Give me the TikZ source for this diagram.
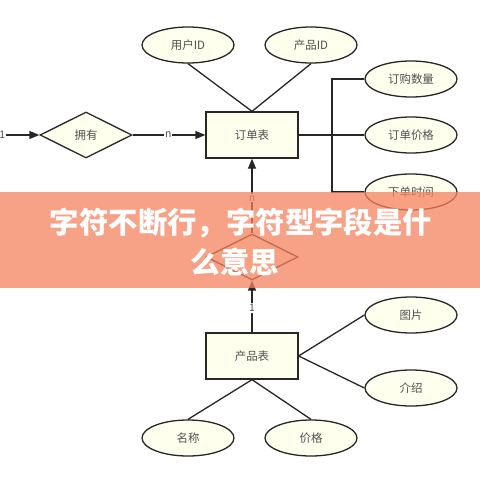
\documentclass[tikz,border=0pt]{standalone}
\usepackage{fontspec}
\setmainfont{Noto Sans CJK SC}
\usetikzlibrary{shapes.geometric,arrows.meta}
\definecolor{ivory}{RGB}{255,255,238}
\definecolor{ink}{RGB}{38,38,38}
\definecolor{txt}{RGB}{80,80,80}
\definecolor{banner}{RGB}{245,130,95}
\begin{document}
\begin{tikzpicture}[x=1bp,y=-1bp,
  base/.style={draw=ink, fill=ivory, line width=1.3bp, inner sep=0pt, text=txt, font=\fontsize{11.5}{13}\selectfont},
  attr/.style={base, ellipse, minimum width=92bp, minimum height=36bp},
  entity/.style={base, rectangle, minimum width=92bp, minimum height=46bp},
  rel/.style={base, diamond, aspect=2, minimum width=92bp, minimum height=46bp},
  conn/.style={draw=ink, line width=1.3bp},
  arr/.style={conn, -{Triangle[length=10bp,width=8bp]}},
  lab/.style={fill=white, inner sep=1pt, text=txt, font=\fontsize{10.5}{12}\selectfont},
  bannertext/.style={text=white, font=\fontsize{29.5}{34}\selectfont\bfseries}
]
\useasboundingbox (0,0) rectangle (480,480);
\fill[white] (0,0) rectangle (480,480);

\node[attr] (uid) at (188,45) {用户ID};
\node[attr] (pid) at (311,45) {产品ID};
\node[entity] (ord) at (252,135) {订单表};
\node[rel] (own) at (86,135) {拥有};
\node[attr] (qty) at (411,79) {订购数量};
\node[attr] (oprice) at (411,135) {订单价格};
\node[attr] (otime) at (411,192) {下单时间};
\node[rel] (bel) at (252,257) {};
\node[entity] (prod) at (252,356) {产品表};
\node[attr] (pic) at (411,315) {图片};
\node[attr] (intro) at (411,388) {介绍};
\node[attr] (pname) at (188,438) {名称};
\node[attr] (pprice) at (311,438) {价格};

\coordinate (lin) at (-12,135);
\coordinate (bus) at (332,135);

\draw[conn] (uid.south) -- (ord.north);
\draw[conn] (pid.south) -- (ord.north);
\draw[conn] (ord.east) -- (oprice.west);
\draw[conn] (qty.west) -| (bus);
\draw[conn] (otime.west) -| (bus);
\draw[arr] (lin) -- node[lab, pos=0.28] {1} (own.west);
\draw[arr] (own.east) -- node[lab, pos=0.49] {n} (ord.west);
\draw[arr] (bel.north) -- node[lab, pos=0.47] {n} (ord.south);
\draw[arr] (prod.north) -- node[lab, pos=0.47] {1} (bel.south);
\draw[conn] (prod.east) -- (pic.west);
\draw[conn] (prod.east) -- (intro.west);
\draw[conn] (prod.south) -- (pname.north);
\draw[conn] (prod.south) -- (pprice.north);

\fill[banner, opacity=0.75] (0,192) rectangle (480,288);
\node[bannertext] (t1) at (241,223) {字符不断行，字符型字段是什};
\node[bannertext] (t2) at (235,262) {么意思};
\end{tikzpicture}
\end{document}
